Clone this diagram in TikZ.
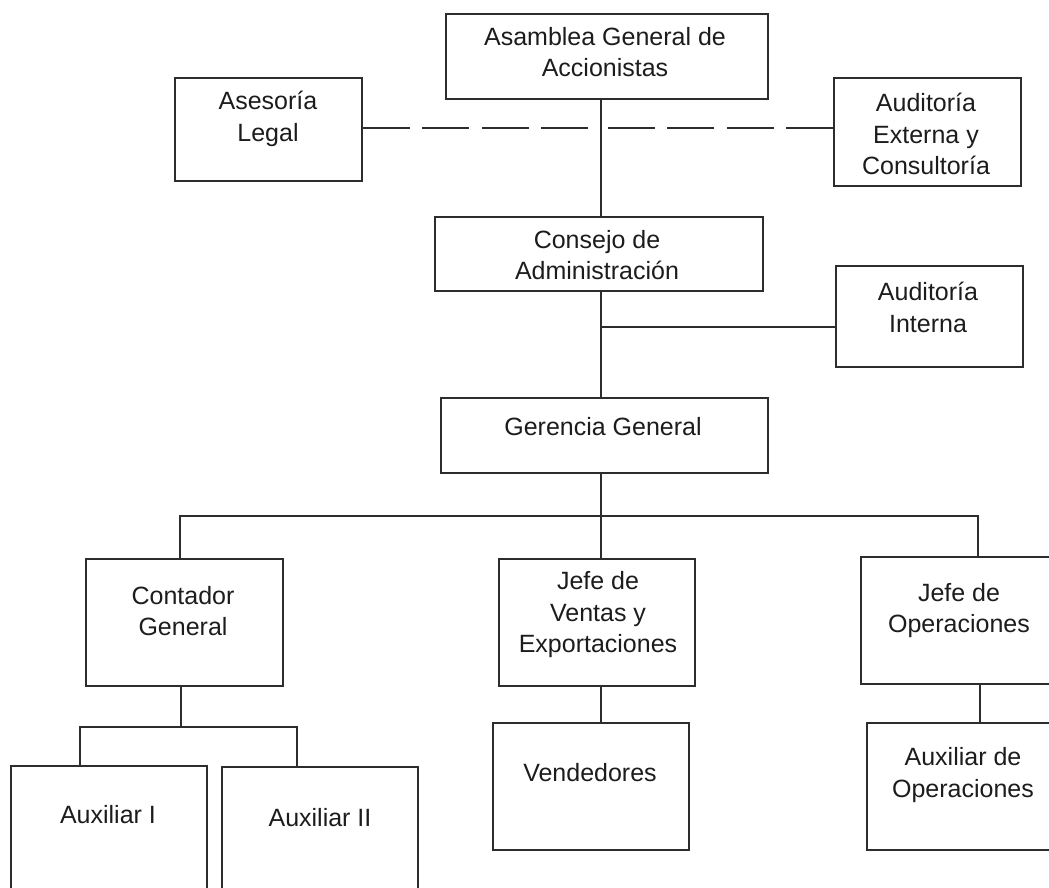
\documentclass[tikz,border=0pt]{standalone}
\usepackage{fontspec}
\setmainfont{Liberation Sans}
\definecolor{linec}{RGB}{45,45,45}
\definecolor{txtc}{RGB}{28,28,28}
\begin{document}
\begin{tikzpicture}[x=1pt,y=-1pt,
  box/.style={draw=linec, line width=1.8pt, rectangle, inner sep=0pt},
  lbl/.style={text=txtc, align=center, inner sep=0pt,
              font=\fontsize{25}{31.5}\selectfont},
  conn/.style={draw=linec, line width=1.8pt},
  legal/.style={conn, dash pattern=on 47pt off 12.5pt},
]
\useasboundingbox (0,0) rectangle (1049,888);
\clip (0,0) rectangle (1049,888);

% ---- boxes ----
\node[box, minimum width=322, minimum height=85]  (asamblea)  at (607,56.5)   {};
\node[box, minimum width=187, minimum height=103] (asesoria)  at (268.5,129.5) {};
\node[box, minimum width=187, minimum height=108] (externa)   at (927.5,132)  {};
\node[box, minimum width=328, minimum height=74]  (consejo)   at (599,254)    {};
\node[box, minimum width=187, minimum height=101] (interna)   at (929.5,316.5) {};
\node[box, minimum width=327, minimum height=75]  (gerencia)  at (604.5,435.5) {};
\node[box, minimum width=197, minimum height=127] (contador)  at (184.5,622.5) {};
\node[box, minimum width=196, minimum height=127] (ventas)    at (597,622.5)  {};
\node[box, minimum width=191, minimum height=127] (operac)    at (956.5,620.5) {};
\node[box, minimum width=196, minimum height=134] (auxA)      at (109,833)    {};
\node[box, minimum width=196, minimum height=133] (auxB)      at (320,833.5)  {};
\node[box, minimum width=196, minimum height=127] (vended)    at (591,786.5)  {};
\node[box, minimum width=193, minimum height=127] (auxops)    at (963.5,786.5) {};

% ---- texts ----
\node[lbl] (asamblea-t) at (605,52)   {Asamblea General de\\Accionistas};
\node[lbl] (asesoria-t) at (268,119)  {Asesoría\\Legal};
\node[lbl] (externa-t)  at (926,134)  {Auditoría\\Externa y\\Consultoría};
\node[lbl] (consejo-t)  at (597,255)  {Consejo de\\Administración};
\node[lbl] (interna-t)  at (928,307.5) {Auditoría\\Interna};
\node[lbl] (gerencia-t) at (603,427)  {Gerencia General};
\node[lbl] (contador-t) at (183,611)  {Contador\\General};
\node[lbl] (ventas-t)   at (598,615)  {Jefe de\\Ventas y\\Exportaciones};
\node[lbl] (operac-t)   at (959,610.5) {Jefe de\\Operaciones};
\node[lbl] (auxA-t)     at (108,815)  {Auxiliar I};
\node[lbl] (auxB-t)     at (320,818)  {Auxiliar II};
\node[lbl] (vended-t)   at (590,773)  {Vendedores};
\node[lbl] (auxops-t)   at (963,775)  {Auxiliar de\\Operaciones};

% ---- junction points ----
\coordinate (trunk)  at (601,0);
\coordinate (legalx) at (601,128);
\coordinate (ibr)    at (601,327);
\coordinate (busL)   at (180,516);
\coordinate (busR)   at (978,516);
\coordinate (opsx)   at (980,0);
\coordinate (cbus)   at (0,727);
\coordinate (cbusL)  at (80,727);
\coordinate (cbusR)  at (297,727);
\coordinate (cx)     at (181,0);

% ---- connectors ----
\draw[conn] (asamblea.south -| trunk) -- (consejo.north -| trunk);
\draw[legal] (asesoria.east |- legalx) -- (legalx);
\draw[legal] (externa.west |- legalx) -- (legalx);
\draw[conn] (consejo.south -| trunk) -- (gerencia.north -| trunk);
\draw[conn] (ibr) -- (ibr -| interna.west);

\draw[conn] (gerencia.south -| trunk) -- (ventas.north -| trunk);
\draw[conn] (contador.north -| busL) -- (busL) -- (busR) -- (operac.north -| busR);

\draw[conn] (contador.south -| cx) -- (cbus -| cx);
\draw[conn] (auxA.north -| cbusL) -- (cbusL) -- (cbusR) -- (auxB.north -| cbusR);

\draw[conn] (ventas.south -| trunk) -- (vended.north -| trunk);
\draw[conn] (operac.south -| opsx) -- (auxops.north -| opsx);
\end{tikzpicture}
\end{document}
